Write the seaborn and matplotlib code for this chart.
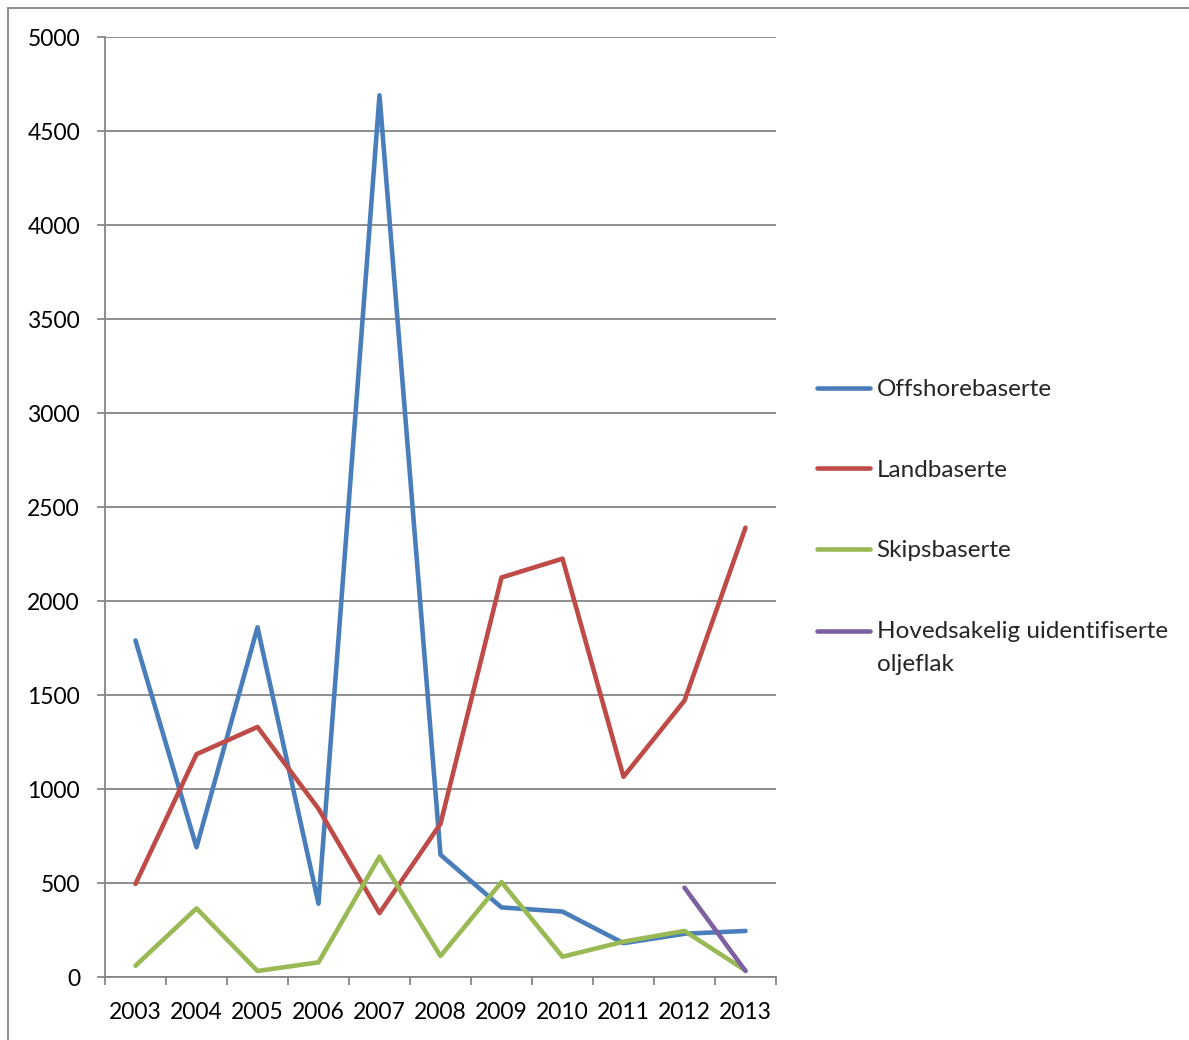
import numpy as np
import pandas as pd
import matplotlib
matplotlib.use("Agg")
import matplotlib.pyplot as plt
from matplotlib.patches import Rectangle
from matplotlib.ticker import FixedLocator, MultipleLocator
import seaborn as sns

# Oil-spill counts per year by source
years = ["2003", "2004", "2005", "2006", "2007", "2008",
         "2009", "2010", "2011", "2012", "2013"]
offshore = [1790, 690, 1860, 390, 4690, 650, 370, 348, 180, 230, 245]
land = [495, 1185, 1330, 895, 340, 815, 2125, 2225, 1065, 1470, 2390]
ship = [60, 365, 32, 78, 640, 112, 505, 108, 188, 245, 35]
unidentified = [np.nan] * 9 + [475, 32]

series_names = ["Offshorebaserte", "Landbaserte", "Skipsbaserte",
                "Hovedsakelig uidentifiserte\noljeflak"]
series_values = [offshore, land, ship, unidentified]
colors = ["#4A7EBB", "#BE4B48", "#98B954", "#7D60A0"]

rows = []
for name, vals in zip(series_names, series_values):
    for i, v in enumerate(vals):
        rows.append({"pos": i, "value": v, "serie": name})
df = pd.DataFrame(rows)

sns.set_theme(style="white")
plt.rcParams["font.family"] = ["Lato", "DejaVu Sans"]

W, H = 1189, 1040
fig = plt.figure(figsize=(W / 100, H / 100), dpi=100)
ax = fig.add_axes([105 / W, 1 - 977 / H, (776 - 105) / W, (977 - 37) / H])

grid_c = "#868686"
lw = 3.3

sns.lineplot(data=df, x="pos", y="value", hue="serie",
             hue_order=series_names, palette=colors, sort=False,
             linewidth=lw, legend=False, ax=ax,
             solid_capstyle="round", solid_joinstyle="round")

ax.set_xlim(-0.5, len(years) - 0.5)
ax.set_ylim(0, 5000)
ax.yaxis.set_major_locator(MultipleLocator(500))
ax.set_xticks(range(len(years)))
ax.set_xticklabels(years)
ax.xaxis.set_minor_locator(FixedLocator(np.arange(-0.5, len(years), 1.0)))
ax.set_xlabel("")
ax.set_ylabel("")

ax.grid(axis="y", color=grid_c, linewidth=1.3)
ax.set_axisbelow(True)
for side in ["top", "right"]:
    ax.spines[side].set_visible(False)
for side in ["left", "bottom"]:
    ax.spines[side].set_color(grid_c)
    ax.spines[side].set_linewidth(1.3)

ax.tick_params(axis="y", which="major", direction="out", length=6, width=1.3,
               color=grid_c, pad=12, labelsize=16.5, labelcolor="black", left=True)
ax.tick_params(axis="x", which="major", length=0, pad=18, labelsize=16.5,
               labelcolor="black")
ax.tick_params(axis="x", which="minor", direction="out", length=6, width=1.3,
               color=grid_c, bottom=True)

handles = ax.lines[:4]
leg = ax.legend(handles, series_names, loc="upper left",
                bbox_to_anchor=(817 / W, 1 - 379 / H),
                bbox_transform=fig.transFigure, frameon=False,
                fontsize=17.5, handlelength=2.2, handletextpad=0.25,
                labelspacing=2.45, borderpad=0, borderaxespad=0)
leg.get_texts()[3].set_linespacing(1.7)
for line in leg.get_lines():
    line.set_linewidth(lw)
    line.set_solid_capstyle("round")
# keep the last handle level with the first line of its two-line label
last = leg.get_lines()[3]
last.set_ydata(np.asarray(last.get_ydata()) + 12.2)

# outer chart border
fig.patches.append(Rectangle((8 / W, -0.1), 1.5, 1 - 8 / H + 0.1,
                             transform=fig.transFigure, fill=False,
                             edgecolor=grid_c, linewidth=1.3))

fig.savefig("out.png", dpi=100, facecolor="white")
